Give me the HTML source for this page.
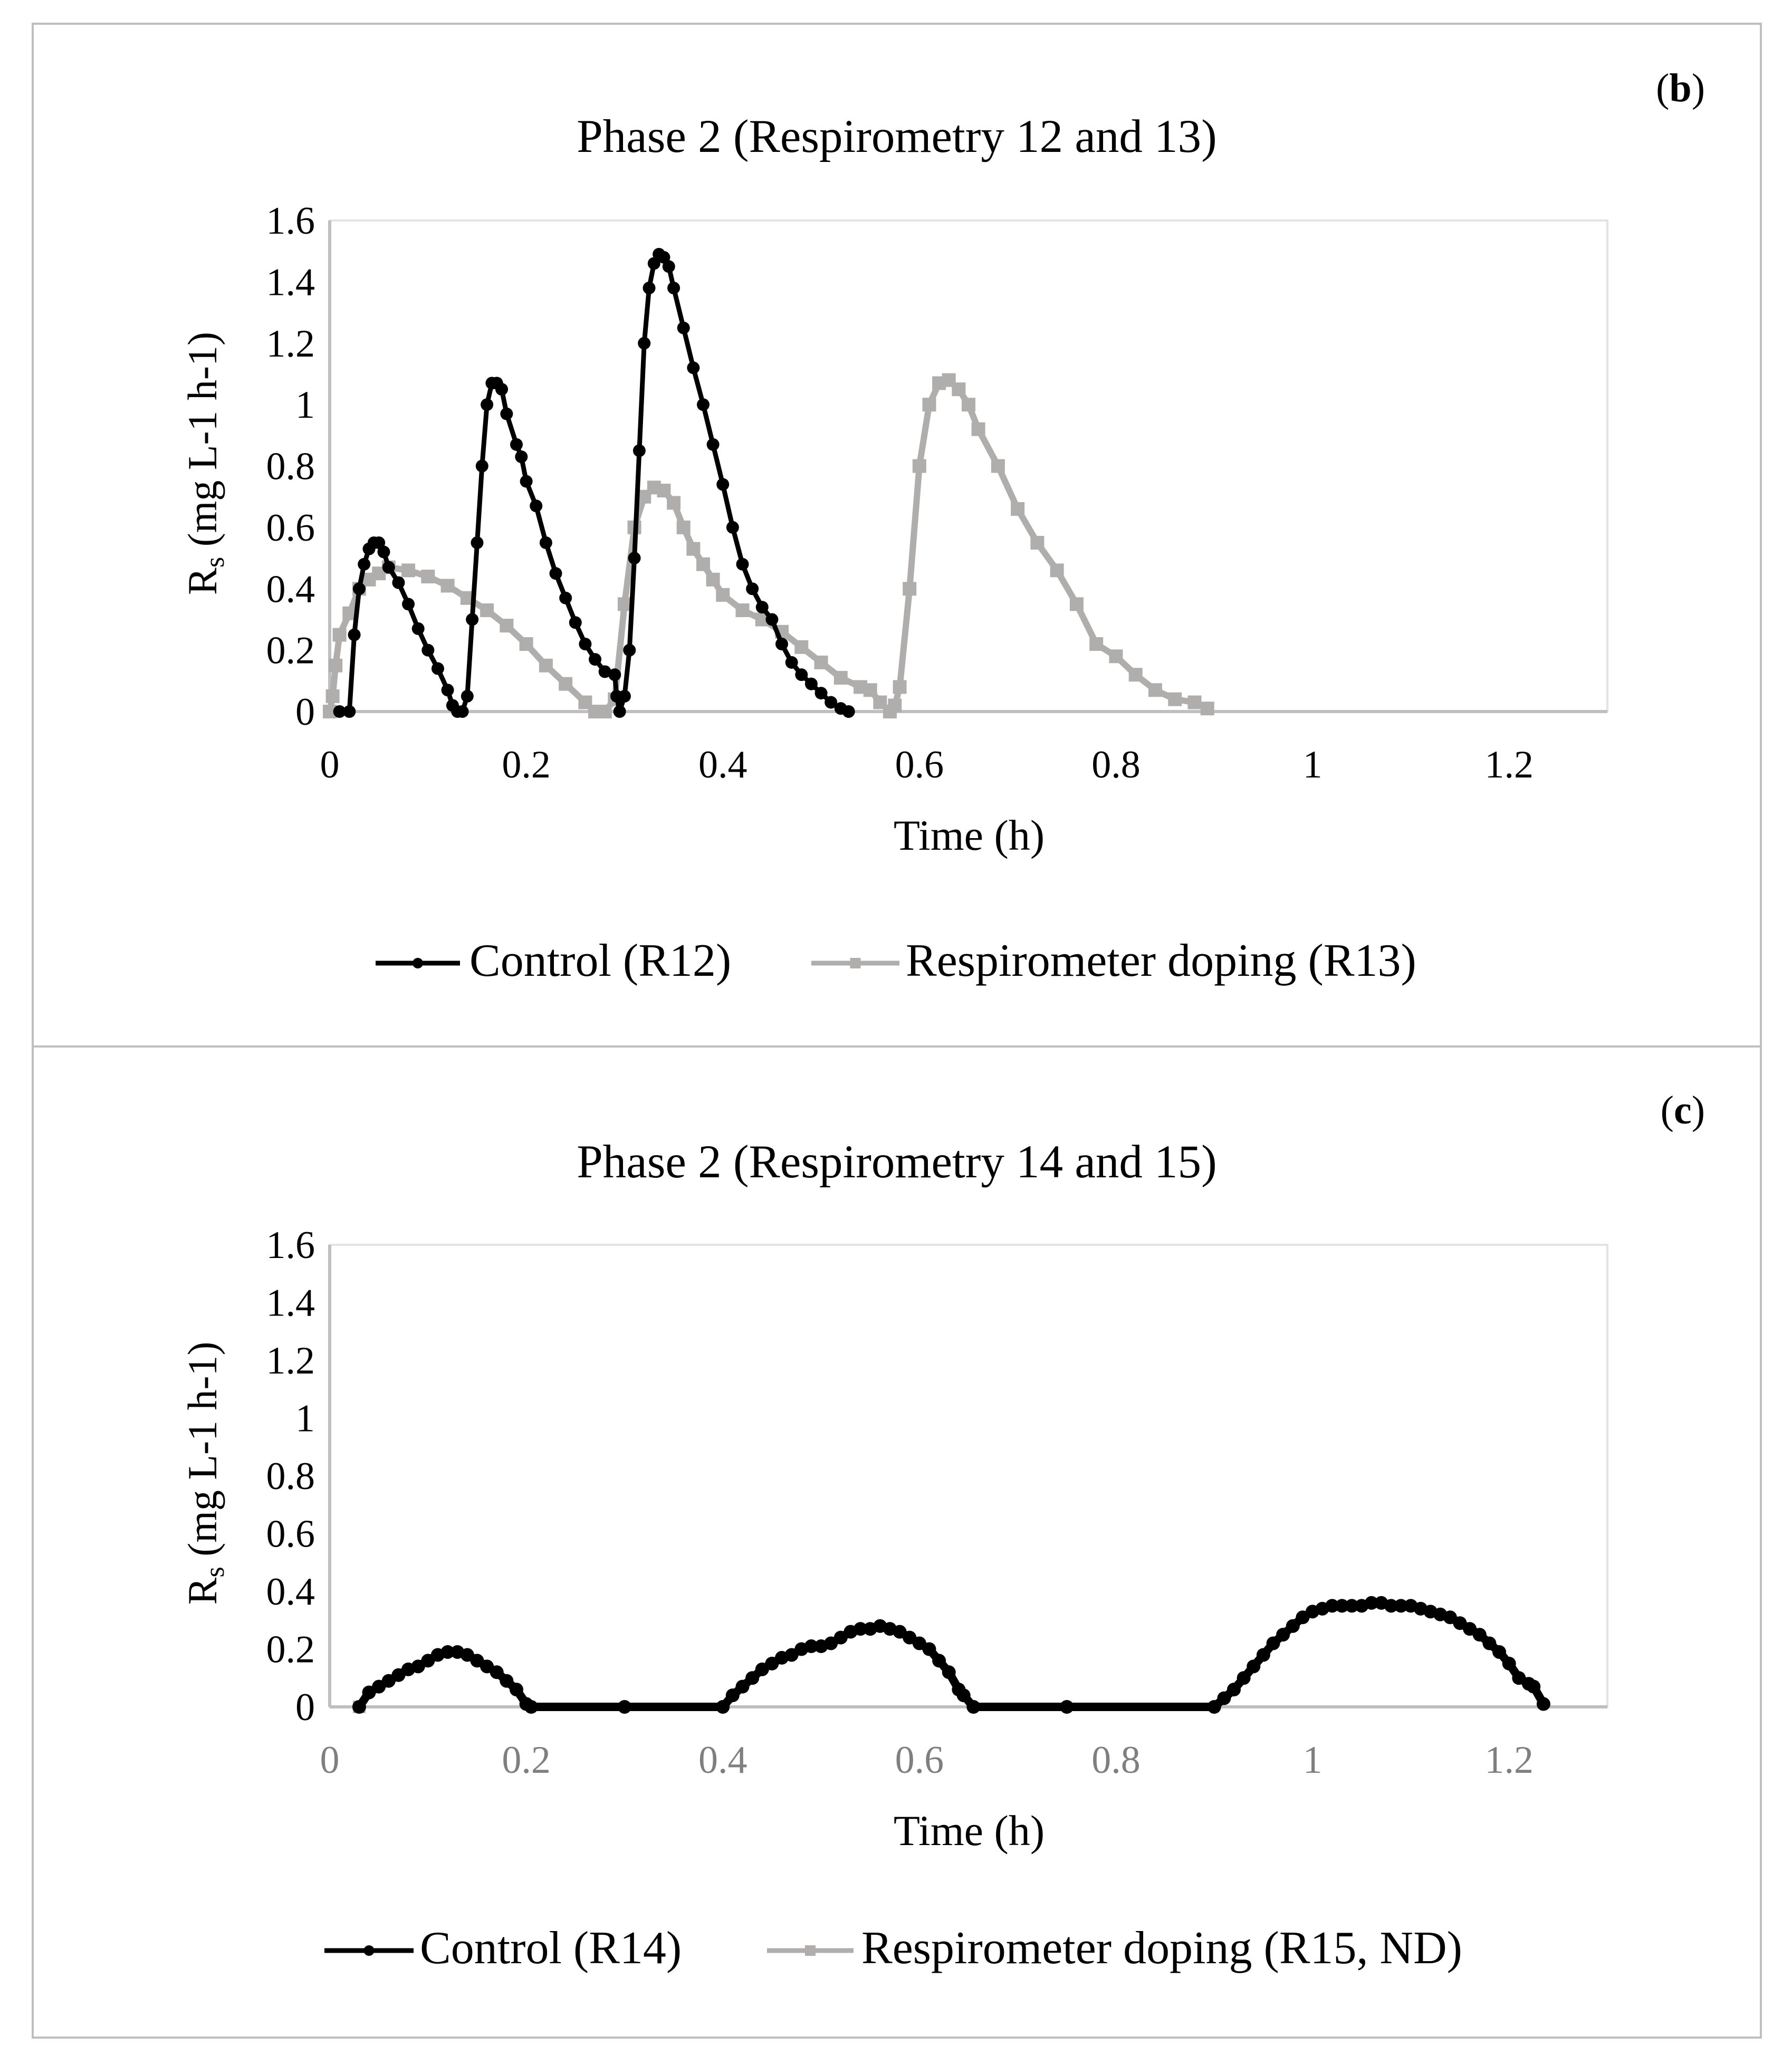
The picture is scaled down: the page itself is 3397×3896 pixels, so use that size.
<!DOCTYPE html>
<html><head><meta charset="utf-8"><style>
html,body{margin:0;padding:0;background:#fff;}
svg{display:block;font-family:"Liberation Serif",serif;}
</style></head><body>
<svg id="fig" width="3397" height="3896" viewBox="0 0 3397 3896" xmlns="http://www.w3.org/2000/svg">
<rect x="62" y="45" width="3276" height="3818" fill="none" stroke="#bfbfbf" stroke-width="4"/>
<line x1="62" y1="1984" x2="3338" y2="1984" stroke="#bfbfbf" stroke-width="4"/>
<g id="chartB"></g>
<g id="chartC"></g>
</svg>
<script>
const xTicks = [0, 0.2, 0.4, 0.6, 0.8, 1, 1.2];
const xTickLabels = ["0", "0.2", "0.4", "0.6", "0.8", "1", "1.2"];
const yTicks = [0, 0.2, 0.4, 0.6, 0.8, 1, 1.2, 1.4, 1.6];
const yTickLabels = ["0", "0.2", "0.4", "0.6", "0.8", "1", "1.2", "1.4", "1.6"];

const r12X = [0.01,0.02,0.025,0.03,0.035,0.04,0.045,0.05,0.055,0.06,0.07,0.08,0.09,0.1,0.11,0.12,0.125,0.13,0.135,0.14,0.145,0.15,0.155,0.16,0.165,0.17,0.175,0.18,0.19,0.195,0.2,0.21,0.22,0.23,0.24,0.25,0.26,0.27,0.28,0.29,0.292,0.295,0.3,0.305,0.31,0.315,0.32,0.325,0.33,0.335,0.34,0.345,0.35,0.36,0.37,0.38,0.39,0.4,0.41,0.42,0.43,0.44,0.45,0.46,0.47,0.48,0.49,0.5,0.51,0.52,0.528];
const r12Y = [0,0,0.25,0.4,0.48,0.53,0.55,0.55,0.52,0.47,0.42,0.35,0.27,0.2,0.14,0.07,0.02,0,0,0.05,0.3,0.55,0.8,1.0,1.07,1.07,1.05,0.97,0.87,0.83,0.75,0.67,0.55,0.45,0.37,0.29,0.22,0.17,0.13,0.12,0.05,0,0.05,0.2,0.5,0.85,1.2,1.38,1.46,1.49,1.48,1.45,1.38,1.25,1.12,1.0,0.87,0.74,0.6,0.48,0.4,0.34,0.3,0.22,0.16,0.12,0.09,0.06,0.03,0.01,0];

const r13X = [0,0.003,0.006,0.01,0.02,0.03,0.04,0.05,0.06,0.08,0.1,0.12,0.14,0.16,0.18,0.2,0.22,0.24,0.26,0.27,0.28,0.29,0.3,0.31,0.32,0.33,0.34,0.35,0.36,0.37,0.38,0.39,0.4,0.42,0.44,0.46,0.48,0.5,0.52,0.54,0.55,0.56,0.57,0.575,0.58,0.59,0.6,0.61,0.62,0.63,0.64,0.65,0.66,0.68,0.7,0.72,0.74,0.76,0.78,0.8,0.82,0.84,0.86,0.88,0.893];
const r13Y = [0,0.05,0.15,0.25,0.32,0.4,0.43,0.45,0.47,0.46,0.44,0.41,0.37,0.33,0.28,0.22,0.15,0.09,0.03,0,0,0.04,0.35,0.6,0.7,0.73,0.72,0.68,0.6,0.53,0.48,0.43,0.38,0.33,0.3,0.26,0.21,0.16,0.11,0.08,0.07,0.03,0,0.02,0.08,0.4,0.8,1.0,1.07,1.08,1.05,1.0,0.92,0.8,0.66,0.55,0.46,0.35,0.22,0.18,0.12,0.07,0.04,0.03,0.01];

const r14X = [0.03,0.04,0.05,0.06,0.07,0.08,0.09,0.1,0.11,0.12,0.13,0.14,0.15,0.16,0.17,0.18,0.19,0.2,0.205,0.3,0.4,0.41,0.42,0.43,0.44,0.45,0.46,0.47,0.48,0.49,0.5,0.51,0.52,0.53,0.54,0.55,0.56,0.57,0.58,0.59,0.6,0.61,0.62,0.63,0.64,0.645,0.655,0.75,0.9,0.91,0.92,0.93,0.94,0.95,0.96,0.97,0.98,0.99,1.0,1.01,1.02,1.03,1.04,1.05,1.06,1.07,1.08,1.09,1.1,1.11,1.12,1.13,1.14,1.15,1.16,1.17,1.18,1.19,1.2,1.21,1.22,1.225,1.235];
const r14Y = [0,0.05,0.07,0.09,0.11,0.13,0.14,0.16,0.18,0.19,0.19,0.18,0.16,0.14,0.12,0.09,0.06,0.01,0,0,0,0.04,0.07,0.1,0.13,0.15,0.17,0.18,0.2,0.21,0.21,0.22,0.24,0.26,0.27,0.27,0.28,0.27,0.26,0.24,0.22,0.2,0.16,0.12,0.06,0.04,0,0,0,0.03,0.06,0.1,0.14,0.18,0.22,0.25,0.28,0.31,0.33,0.34,0.35,0.35,0.35,0.35,0.36,0.36,0.35,0.35,0.35,0.34,0.33,0.32,0.31,0.29,0.27,0.25,0.22,0.19,0.15,0.1,0.08,0.07,0.01];

const NS = "http://www.w3.org/2000/svg";
function mk(parent, tag, attrs, text){
  const e = document.createElementNS(NS, tag);
  for (const k in attrs) e.setAttribute(k, attrs[k]);
  if (text !== undefined) e.textContent = text;
  parent.appendChild(e);
  return e;
}

function drawChart(g, cfg){
  const L = 625, R = 3047, T = cfg.top, B = cfg.bottom;
  const xMax = 1.3, yMax = 1.6;
  const sx = v => L + v / xMax * (R - L);
  const sy = v => B - v / yMax * (B - T);

  const border = mk(g, "rect", {x:L, y:T, width:R-L, height:B-T, fill:"none", stroke:"#e3e3e3", "stroke-width":4});
  
  
  const axis = mk(g, "line", {x1:L, y1:B, x2:R, y2:B, stroke:"#bfbfbf", "stroke-width":6});
  
  
  const yaxis = mk(g, "line", {x1:L, y1:T, x2:L, y2:B, stroke:"#bfbfbf", "stroke-width":6});
  
  

  yTicks.forEach((v,i)=>{
    const t = mk(g, "text", {x:L-28, y:sy(v)+25, "text-anchor":"end", "font-size":74, fill:"#000"}, yTickLabels[i]);
    
    
  });
  xTicks.forEach((v,i)=>{
    const t = mk(g, "text", {x:sx(v), y:B+125, "text-anchor":"middle", "font-size":74, fill:cfg.xTickColor}, xTickLabels[i]);
    
    
  });

  const title = mk(g, "text", {x:1700, y:cfg.titleY, "text-anchor":"middle", "font-size":89}, cfg.title);
  
  
  const lab = mk(g, "text", {x:3232, y:cfg.labelY, "text-anchor":"end", "font-size":76}, "");
  
  
  mk(lab, "tspan", {}, "(");
  mk(lab, "tspan", {"font-weight":"bold"}, cfg.panel);
  mk(lab, "tspan", {}, ")");

  const xt = mk(g, "text", {x:1837, y:B+262, "text-anchor":"middle", "font-size":82}, "Time (h)");
  
  
  const cy = (T+B)/2 - 5;
  const yt = mk(g, "text", {x:0, y:0, "text-anchor":"middle", "font-size":78, transform:`translate(410 ${cy}) rotate(-90)`}, "");
  
  
  mk(yt, "tspan", {}, "R");
  mk(yt, "tspan", {"font-size":52, dy:14}, "s");
  mk(yt, "tspan", {dy:-14}, " (mg L-1 h-1)");

  cfg.series.forEach(s=>{
    const sg = mk(g, "g", {});
    
    
    if (s.x.length){
      const d = s.x.map((v,i)=>(i?"L":"M")+sx(v).toFixed(1)+" "+sy(s.y[i]).toFixed(1)).join(" ");
      mk(sg, "path", {d:d, fill:"none", stroke:s.color, "stroke-width":s.w, "stroke-linejoin":"round"});
      s.x.forEach((v,i)=>{
        let m;
        if (s.marker==="circle") m = mk(sg, "circle", {cx:sx(v), cy:sy(s.y[i]), r:s.ms, fill:s.color});
        else m = mk(sg, "rect", {x:sx(v)-s.ms, y:sy(s.y[i])-s.ms, width:2*s.ms, height:2*s.ms, fill:s.color});
        
        
      });
    }
  });

  cfg.legend.forEach(l=>{
    const lg = mk(g, "g", {});
    
    
    mk(lg, "line", {x1:l.x1, y1:cfg.legY-24, x2:l.x2, y2:cfg.legY-24, stroke:l.color, "stroke-width":9});
    const mx = (l.x1+l.x2)/2;
    if (l.marker==="circle") mk(lg, "circle", {cx:mx, cy:cfg.legY-24, r:10, fill:l.color});
    else mk(lg, "rect", {x:mx-10, y:cfg.legY-34, width:20, height:20, fill:l.color});
    mk(lg, "text", {x:l.tx, y:cfg.legY, "font-size":88}, l.text);
  });
}

drawChart(document.getElementById("chartB"), {
  top:418, bottom:1349, title:"Phase 2 (Respirometry 12 and 13)", titleY:288, labelY:192, panel:"b",
  xTickColor:"#000", legY:1850,
  series:[
    {name:"series-r13", x:r13X, y:r13Y, color:"#b0adad", w:12, marker:"square", ms:13},
    {name:"series-r12", x:r12X, y:r12Y, color:"#000", w:9, marker:"circle", ms:12}
  ],
  legend:[
    {x1:712, x2:872, tx:890, color:"#000", marker:"circle", text:"Control (R12)"},
    {x1:1538, x2:1705, tx:1717, color:"#b0adad", marker:"square", text:"Respirometer doping (R13)"}
  ]
});
drawChart(document.getElementById("chartC"), {
  top:2360, bottom:3236, title:"Phase 2 (Respirometry 14 and 15)", titleY:2232, labelY:2130, panel:"c",
  xTickColor:"#7f7f7f", legY:3722,
  series:[
    {name:"series-r15", x:[0.03], y:[0], color:"#b0adad", w:9, marker:"square", ms:12},
    {name:"series-r14", x:r14X, y:r14Y, color:"#000", w:16, marker:"circle", ms:13}
  ],
  legend:[
    {x1:615, x2:784, tx:796, color:"#000", marker:"circle", text:"Control (R14)"},
    {x1:1454, x2:1618, tx:1633, color:"#b0adad", marker:"square", text:"Respirometer doping (R15, ND)"}
  ]
});
</script>
</body></html>
